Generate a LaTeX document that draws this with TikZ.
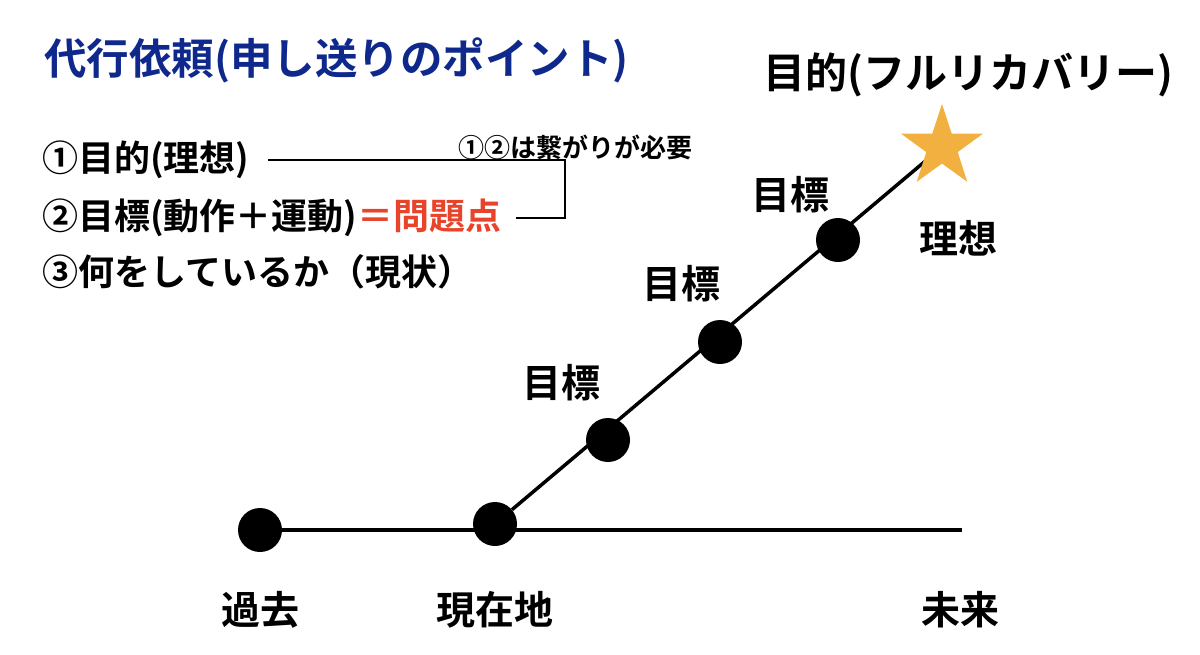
\documentclass[tikz,border=0pt]{standalone}
\usepackage{fontspec}
\usetikzlibrary{shapes.geometric}
\newfontfamily\jp{Noto Sans CJK JP}[BoldFont={Noto Sans CJK JP Bold}]
\definecolor{titleblue}{RGB}{14,40,140}
\definecolor{probred}{RGB}{232,68,44}
\definecolor{starorange}{RGB}{242,176,64}

\begin{document}
\begin{tikzpicture}[x=1pt,y=-1pt,
  dot/.style={circle,fill=black,minimum size=44pt,inner sep=0pt},
  lbl/.style={font=\jp\bfseries\fontsize{39}{39}\selectfont},
  item/.style={anchor=west,inner sep=0pt,font=\jp\bfseries\fontsize{36}{36}\selectfont},
  timeline/.style={line width=3.5pt}]

\useasboundingbox (0,0) rectangle (1200,654);

\node[anchor=west,inner sep=0pt,text=titleblue,font=\jp\bfseries\fontsize{42.5}{42.5}\selectfont] (title) at (44,60) {代行依頼(申し送りのポイント)};

\node[item] (item1) at (42,160) {①目的(理想)};
\node[item] (item2) at (42,218) {②目標(動作＋運動)\textcolor{probred}{＝問題点}};
\node[item] (item3) at (42,272) {③何をしているか（現状）};
\node[font=\jp\bfseries\fontsize{26}{26}\selectfont] (note) at (575,147) {①②は繋がりが必要};
\coordinate (brk) at (565,190);
\draw[line width=2pt] ([xshift=18pt]item1.east) -| (brk) |- ([xshift=14pt]item2.east);

\coordinate (end) at (962,530);
\coordinate (ideal) at (942,147);
\node[dot] (past) at (260,530) {};
\node[dot] (now) at (495,524) {};
\draw[timeline] (past) -- (end);
\draw[timeline] (now) -- (ideal);

\foreach \x/\y/\lx/\ly [count=\i] in {608/440/561/383, 720/342/681/284, 838/240/790/195} {
  \node[dot] (goal\i) at (\x,\y) {};
  \node[lbl] (goallabel\i) at (\lx,\ly) {目標};
}

\node[star,star points=5,star point ratio=2.6,fill=starorange,minimum size=86pt,inner sep=0pt] (star) at (ideal) {};
\node[lbl,font=\jp\bfseries\fontsize{42}{42}\selectfont] (purpose) at (968,75) {目的(フルリカバリー)};
\node[lbl] (idealtext) at (958,238) {理想};

\node[lbl] (pastlabel) at (260,610) {過去};
\node[lbl] (nowlabel) at (495,610) {現在地};
\node[lbl] (futurelabel) at (960,610) {未来};

\end{tikzpicture}
\end{document}
